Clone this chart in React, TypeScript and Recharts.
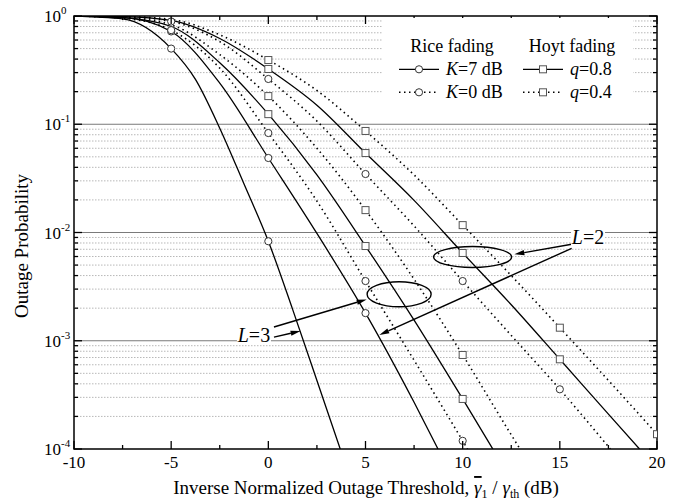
import React from "react"
import {
  LineChart,
  Line,
  XAxis,
  YAxis,
  ReferenceLine,
  ReferenceDot,
  ReferenceArea,
} from "recharts"

const FONT = '"Liberation Serif", "Times New Roman", serif'

// outage probability vs inverse normalized threshold (dB)
const riceK7L3X = [-10, -7.5, -5, -3.75, -2.5, -1.25, 0, 1.25, 2.5, 3.7]
const riceK7L3P = [0.998, 0.94, 0.5, 0.26, 0.092, 0.028, 0.0083, 0.00195, 0.00043, 0.0001]

const riceK7L2X = [-10, -7.5, -5, -2.5, 0, 2.5, 5, 7.5, 8.73]
const riceK7L2P = [0.999, 0.97, 0.72, 0.24, 0.0488, 0.0098, 0.0018, 0.00027, 0.0001]

const riceK0L3X = [-10, -7.5, -5, -2.5, 0, 2.5, 5, 7.5, 10, 10.25]
const riceK0L3P = [0.999, 0.955, 0.74, 0.33, 0.083, 0.0195, 0.00356, 0.00066, 0.000119, 0.0001]

const riceK0L2X = [-10, -7.5, -5, -2.5, 0, 2.5, 5, 7.5, 10, 12.5, 15, 17.6]
const riceK0L2P = [0.9995, 0.985, 0.89, 0.58, 0.262, 0.107, 0.0347, 0.0115, 0.00356, 0.00112, 0.000356, 0.0001]

const hoytQ08L3X = [-10, -7.5, -5, -2.5, 0, 2.5, 5, 7.5, 10, 11.55]
const hoytQ08L3P = [0.999, 0.965, 0.8, 0.37, 0.124, 0.034, 0.0075, 0.00155, 0.00029, 0.0001]

const hoytQ04L3X = [-10, -7.5, -5, -2.5, 0, 2.5, 5, 7.5, 10, 12.5, 12.95]
const hoytQ04L3P = [0.9995, 0.972, 0.83, 0.44, 0.182, 0.06, 0.0161, 0.0037, 0.000739, 0.000135, 0.0001]

const hoytQ08L2X = [-10, -7.5, -5, -2.5, 0, 2.5, 5, 7.5, 10, 12.5, 15, 17.5, 19.1]
const hoytQ08L2P = [0.9997, 0.988, 0.91, 0.62, 0.324, 0.15, 0.0542, 0.0198, 0.00647, 0.00215, 0.000674, 0.00021, 0.0001]

const hoytQ04L2X = [-10, -7.5, -5, -2.5, 0, 2.5, 5, 7.5, 10, 12.5, 15, 17.5, 20]
const hoytQ04L2P = [0.9998, 0.99, 0.93, 0.67, 0.392, 0.205, 0.0867, 0.034, 0.0117, 0.004, 0.00132, 0.00043, 0.000137]

const riceMarkers = [-5, 0, 5, 10, 15, 20]
const hoytMarkers = [0, 5, 10, 15, 20]

const xTicks = [-10, -7.5, -5, -2.5, 0, 2.5, 5, 7.5, 10, 12.5, 15, 17.5, 20]
const decades = [1e-4, 1e-3, 1e-2, 1e-1, 1]
const mantissas = [2, 3, 4, 5, 6, 7, 8, 9]
const minorY = decades.slice(0, 4).flatMap((d) => mantissas.map((m) => m * d))
const yTicks = [...decades, ...minorY]

// annotation anchors (data coordinates)
const ellipseL2 = { x: 10.51, p: 5.94e-3 }
const ellipseL3 = { x: 6.73, p: 2.69e-3 }
const labelL2 = { x: 16.45, p: 9.1e-3 }
const labelL3 = { x: -0.74, p: 1.13e-3 }
const arrowsL2 = [
  [{ x: 15.61, p: 7.78e-3 }, { x: 12.66, p: 6.29e-3 }],
  [{ x: 15.61, p: 7.14e-3 }, { x: 5.71, p: 1.13e-3 }],
]
const arrowsL3 = [
  [{ x: 0.29, p: 1.34e-3 }, { x: 5.06, p: 2.41e-3 }],
  [{ x: 0.29, p: 1.08e-3 }, { x: 1.66, p: 1.23e-3 }],
]

const W = 678
const H = 501
const PLOT = { left: 74, right: 657, top: 16, bottom: 449 }

const zip = (xs: number[], ps: number[]) => xs.map((x, i) => ({ x, p: ps[i] }))

const curves = [
  { id: "r7l3", rows: zip(riceK7L3X, riceK7L3P), dotted: false, kind: "circle", marks: riceMarkers },
  { id: "r7l2", rows: zip(riceK7L2X, riceK7L2P), dotted: false, kind: "circle", marks: riceMarkers },
  { id: "r0l3", rows: zip(riceK0L3X, riceK0L3P), dotted: true, kind: "circle", marks: riceMarkers },
  { id: "r0l2", rows: zip(riceK0L2X, riceK0L2P), dotted: true, kind: "circle", marks: riceMarkers },
  { id: "h8l3", rows: zip(hoytQ08L3X, hoytQ08L3P), dotted: false, kind: "square", marks: hoytMarkers },
  { id: "h4l3", rows: zip(hoytQ04L3X, hoytQ04L3P), dotted: true, kind: "square", marks: hoytMarkers },
  { id: "h8l2", rows: zip(hoytQ08L2X, hoytQ08L2P), dotted: false, kind: "square", marks: hoytMarkers },
  { id: "h4l2", rows: zip(hoytQ04L2X, hoytQ04L2P), dotted: true, kind: "square", marks: hoytMarkers },
]

const DOTS = "1.5 3.5"

function Marker({ kind, cx, cy }: { kind: string; cx: number; cy: number }) {
  if (kind === "circle")
    return <circle cx={cx} cy={cy} r={3.6} fill="#fff" stroke="#333" strokeWidth={1} />
  return <rect x={cx - 3.5} y={cy - 3.5} width={7} height={7} fill="#fff" stroke="#555" strokeWidth={1} />
}

const makeDot = (kind: string, marks: number[]) => (props: any) => {
  const { cx, cy, payload, index } = props
  if (cx == null || cy == null || !marks.includes(payload.x)) return <g key={index} />
  return (
    <g key={index}>
      <Marker kind={kind} cx={cx} cy={cy} />
    </g>
  )
}

function XTick(props: any) {
  const { x, payload } = props
  const v = payload.value
  const major = v % 5 === 0
  const len = major ? 8 : 4
  return (
    <g>
      <line x1={x} y1={PLOT.bottom} x2={x} y2={PLOT.bottom - len} stroke="#000" strokeWidth={1.3} />
      <line x1={x} y1={PLOT.top} x2={x} y2={PLOT.top + len} stroke="#000" strokeWidth={1.3} />
      {major && (
        <text x={x} y={PLOT.bottom + 19} textAnchor="middle" fontFamily={FONT} fontSize={17} fill="#000">
          {String(v)}
        </text>
      )}
    </g>
  )
}

function YTick(props: any) {
  const { y, payload } = props
  const v = payload.value
  const major = decades.includes(v)
  const len = major ? 8 : 4
  const exp = Math.round(Math.log10(v))
  return (
    <g>
      <line x1={PLOT.left} y1={y} x2={PLOT.left + len} y2={y} stroke="#000" strokeWidth={1.3} />
      <line x1={PLOT.right} y1={y} x2={PLOT.right - len} y2={y} stroke="#000" strokeWidth={1.3} />
      {major && (
        <text x={PLOT.left - 30} y={y + 6} fontFamily={FONT} fontSize={17} fill="#000">
          10
          <tspan fontSize={11} dy={-8}>
            {String(exp)}
          </tspan>
        </text>
      )}
    </g>
  )
}

function Arrow(props: any) {
  const { x1, y1, x2, y2 } = props
  const ang = Math.atan2(y2 - y1, x2 - x1)
  const L = 10
  const hw = 2.6
  const bx = x2 - L * Math.cos(ang)
  const by = y2 - L * Math.sin(ang)
  const nx = -Math.sin(ang) * hw
  const ny = Math.cos(ang) * hw
  return (
    <g>
      <line x1={x1} y1={y1} x2={bx} y2={by} stroke="#000" strokeWidth={1.4} />
      <polygon points={`${x2},${y2} ${bx + nx},${by + ny} ${bx - nx},${by - ny}`} fill="#000" />
    </g>
  )
}

const ellipseShape = (rx: number, ry: number) => (props: any) => (
  <ellipse cx={props.cx} cy={props.cy} rx={rx} ry={ry} fill="none" stroke="#000" strokeWidth={1.4} />
)

const labelShape = (n: string) => (props: any) => (
  <g>
    <rect x={props.cx - 17} y={props.cy - 10} width={34} height={19} fill="#fff" />
    <text x={props.cx} y={props.cy + 7} textAnchor="middle" fontFamily={FONT} fontSize={20} fill="#000">
      <tspan fontStyle="italic">L</tspan>={n}
    </text>
  </g>
)

function LegendOverlay() {
  const r2 = 69.3
  const r3 = 92.3
  return (
    <svg width={W} height={H} style={{ position: "absolute", left: 0, top: 0, pointerEvents: "none" }}>
      <rect x={383} y={18} width={250} height={82} fill="#fff" />
      <g fontFamily={FONT} fontSize={18} fill="#000">
        <text x={452} y={52} textAnchor="middle">Rice fading</text>
        <text x={572} y={52} textAnchor="middle">Hoyt fading</text>
        <line x1={399} x2={439} y1={r2} y2={r2} stroke="#000" strokeWidth={1.3} />
        <Marker kind="circle" cx={419} cy={r2} />
        <text x={446} y={r2 + 6}>
          <tspan fontStyle="italic">K</tspan>=7 dB
        </text>
        <line x1={399} x2={439} y1={r3} y2={r3} stroke="#000" strokeWidth={1.5} strokeDasharray={DOTS} />
        <Marker kind="circle" cx={419} cy={r3} />
        <text x={446} y={r3 + 6}>
          <tspan fontStyle="italic">K</tspan>=0 dB
        </text>
        <line x1={523} x2={563} y1={r2} y2={r2} stroke="#000" strokeWidth={1.3} />
        <Marker kind="square" cx={543} cy={r2} />
        <text x={570} y={r2 + 6}>
          <tspan fontStyle="italic">q</tspan>=0.8
        </text>
        <line x1={523} x2={563} y1={r3} y2={r3} stroke="#000" strokeWidth={1.5} strokeDasharray={DOTS} />
        <Marker kind="square" cx={543} cy={r3} />
        <text x={570} y={r3 + 6}>
          <tspan fontStyle="italic">q</tspan>=0.4
        </text>
      </g>
      <text x={366} y={494} textAnchor="middle" fontFamily={FONT} fontSize={19} fill="#000">
        Inverse Normalized Outage Threshold,{" "}
        <tspan fontStyle="italic" textDecoration="overline">γ</tspan>
        <tspan fontSize={12} dy={4}>1</tspan>
        <tspan dy={-4}> / </tspan>
        <tspan fontStyle="italic">γ</tspan>
        <tspan fontSize={12} dy={4}>th</tspan>
        <tspan dy={-4}> (dB)</tspan>
      </text>
      <text
        x={28}
        y={246}
        transform="rotate(-90 28 246)"
        textAnchor="middle"
        fontFamily={FONT}
        fontSize={19}
        fill="#000"
      >
        Outage Probability
      </text>
    </svg>
  )
}

export default function App() {
  return (
    <div style={{ position: "absolute", left: 0, top: 0, width: W, height: H, overflow: "hidden" }}>
      <LineChart width={W} height={H} margin={{ top: PLOT.top, right: W - PLOT.right, bottom: 0, left: 0 }}>
        <XAxis
          dataKey="x"
          type="number"
          domain={[-10, 20]}
          ticks={xTicks}
          interval={0}
          allowDataOverflow
          axisLine={false}
          tickLine={false}
          tickSize={0}
          tickMargin={0}
          height={H - PLOT.bottom}
          tick={XTick}
        />
        <YAxis
          type="number"
          scale="log"
          domain={[1e-4, 1]}
          ticks={yTicks}
          interval={0}
          allowDataOverflow
          axisLine={false}
          tickLine={false}
          tickSize={0}
          tickMargin={0}
          width={PLOT.left}
          tick={YTick}
        />
        {minorY.map((v) => (
          <ReferenceLine key={`g${v}`} y={v} stroke="#b8b8b8" strokeWidth={1} strokeDasharray="1.5 1.5" />
        ))}
        {decades.slice(1, 4).map((v) => (
          <ReferenceLine key={`d${v}`} y={v} stroke="#7a7a7a" strokeWidth={1} />
        ))}
        {curves.map((c) => (
          <Line
            key={c.id}
            data={c.rows}
            dataKey="p"
            type="monotone"
            stroke="#000"
            strokeWidth={c.dotted ? 1.6 : 1.3}
            strokeDasharray={c.dotted ? DOTS : undefined}
            dot={false}
            activeDot={false}
            isAnimationActive={false}
          />
        ))}
        {curves.map((c) => (
          <Line
            key={`${c.id}-m`}
            data={c.rows}
            dataKey="p"
            stroke="none"
            dot={makeDot(c.kind, c.marks)}
            activeDot={false}
            isAnimationActive={false}
          />
        ))}
        <ReferenceArea x1={-10} x2={20} y1={1e-4} y2={1} fill="none" stroke="#000" strokeWidth={1.5} ifOverflow="visible" />
        <ReferenceDot x={ellipseL2.x} y={ellipseL2.p} shape={ellipseShape(39, 10.5)} ifOverflow="visible" />
        <ReferenceDot x={ellipseL3.x} y={ellipseL3.p} shape={ellipseShape(32, 12.5)} ifOverflow="visible" />
        {[...arrowsL2, ...arrowsL3].map((seg, i) => (
          <ReferenceLine
            key={`a${i}`}
            segment={[
              { x: seg[0].x, y: seg[0].p },
              { x: seg[1].x, y: seg[1].p },
            ]}
            shape={Arrow}
            ifOverflow="visible"
          />
        ))}
        <ReferenceDot x={labelL2.x} y={labelL2.p} shape={labelShape("2")} ifOverflow="visible" />
        <ReferenceDot x={labelL3.x} y={labelL3.p} shape={labelShape("3")} ifOverflow="visible" />
      </LineChart>
      <LegendOverlay />
    </div>
  )
}
